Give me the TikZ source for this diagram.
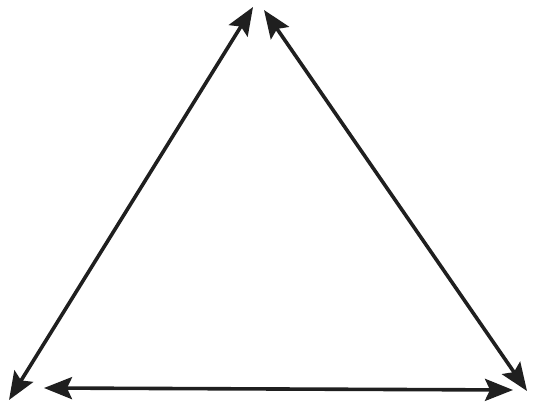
\documentclass[tikz,border=0pt]{standalone}
\usetikzlibrary{arrows.meta}
\begin{document}
\begin{tikzpicture}[x=1pt,y=-1pt,
  sketch/.style={line width=3.6pt,draw=black!88,line cap=round,
    {Stealth[length=28pt,width=22pt,inset=5pt]}-{Stealth[length=28pt,width=22pt,inset=5pt]}}]
\useasboundingbox (0,0) rectangle (537,411);
\coordinate (la) at (253,7);
\coordinate (lb) at (9,400);
\coordinate (ra) at (264,10);
\coordinate (rb) at (527,391);
\coordinate (ba) at (44,388);
\coordinate (bb) at (513,390);
\draw[sketch] (la) -- (lb);
\draw[sketch] (ra) -- (rb);
\draw[sketch] (ba) -- (bb);
\end{tikzpicture}
\end{document}
